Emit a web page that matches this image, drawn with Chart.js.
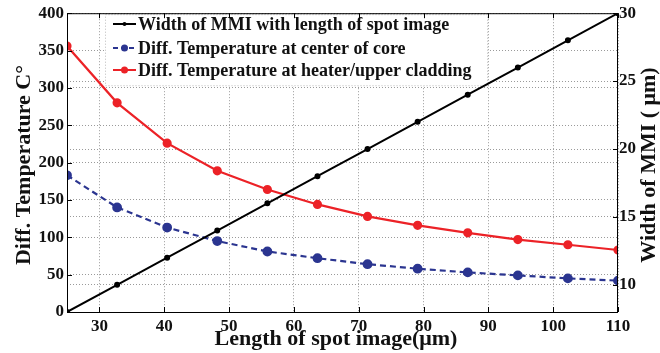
<!DOCTYPE html>
<html>
<head>
<meta charset="utf-8">
<script src="https://cdn.jsdelivr.net/npm/chart.js@4.4.1/dist/chart.umd.min.js"></script>
<style>
  html, body { margin: 0; padding: 0; background: #fff; }
  #wrap { width: 660px; height: 353px; }
</style>
</head>
<body>
<div id="wrap"><canvas id="chart"></canvas></div>
<script>
// values
const spotLength = [25, 32.73, 40.45, 48.18, 55.91, 63.64, 71.36, 79.09, 86.82, 94.55, 102.27, 110];
const mmiWidth = [8, 10, 12, 14, 16, 18, 20, 22, 24, 26, 28, 30];
const tempCore = [183, 140, 113, 95, 81, 72, 64, 58, 53, 49, 45, 42];
const tempHeater = [356, 280, 226, 189, 164, 144, 128, 116, 106, 97, 90, 83];

const xTicks = [30, 40, 50, 60, 70, 80, 90, 100, 110];
const tempTicks = [0, 50, 100, 150, 200, 250, 300, 350, 400];
const widthTicks = [10, 15, 20, 25, 30];

const seriesNames = [
  'Width of MMI with length of spot image',
  'Diff. Temperature at center of core',
  'Diff. Temperature at heater/upper cladding'
];

const FONT = "'Liberation Serif', 'Times New Roman', serif";
const RED = '#ec2227';
const BLUE = '#2b3590';
const GRID = '#9a9a9a';

const toPoints = ys => spotLength.map((x, i) => ({ x: x, y: ys[i] }));

function fixTicks(values) {
  return scale => { scale.ticks = values.map(v => ({ value: v })); };
}

const framePlugin = {
  id: 'frame',
  beforeDatasetsDraw(chart) {
    // legend box sits on the grid, below the lines
    const ctx = chart.ctx;
    const a = chart.chartArea;
    ctx.save();
    ctx.fillStyle = '#fff';
    ctx.fillRect(105, a.top + 1, 383, 72);
    ctx.strokeStyle = '#bbb';
    ctx.lineWidth = 1;
    ctx.setLineDash([1, 2]);
    ctx.strokeRect(105.5, a.top + 1.5, 382, 71);
    const rows = [24, 48, 70];
    const colors = ['#000', BLUE, RED];
    const dashes = [[], [5, 3], []];
    const radii = [2, 3.5, 3.5];
    rows.forEach((y, i) => {
      ctx.strokeStyle = colors[i];
      ctx.fillStyle = colors[i];
      ctx.lineWidth = 2;
      ctx.setLineDash(dashes[i]);
      ctx.beginPath();
      ctx.moveTo(113, y);
      ctx.lineTo(136, y);
      ctx.stroke();
      ctx.setLineDash([]);
      ctx.beginPath();
      ctx.arc(124.5, y, radii[i], 0, Math.PI * 2);
      ctx.fill();
      ctx.fillStyle = '#111';
      ctx.font = 'bold 18px ' + FONT;
      ctx.textAlign = 'left';
      ctx.textBaseline = 'middle';
      ctx.fillText(seriesNames[i], 138, y + 1);
    });
    ctx.restore();
  },
  afterDraw(chart) {
    const ctx = chart.ctx;
    const a = chart.chartArea;
    const xs = chart.scales.x, yl = chart.scales.y, yr = chart.scales.y2;
    ctx.save();
    ctx.strokeStyle = '#000';
    ctx.lineWidth = 1;
    ctx.strokeRect(a.left + 0.5, a.top + 0.5, a.right - a.left - 1, a.bottom - a.top);
    // inward ticks
    ctx.beginPath();
    xTicks.forEach(v => {
      const px = Math.round(xs.getPixelForValue(v)) + 0.5;
      ctx.moveTo(px, a.bottom); ctx.lineTo(px, a.bottom - 5);
      ctx.moveTo(px, a.top); ctx.lineTo(px, a.top + 5);
    });
    tempTicks.forEach(v => {
      const py = Math.round(yl.getPixelForValue(v)) + 0.5;
      ctx.moveTo(a.left, py); ctx.lineTo(a.left + 5, py);
    });
    widthTicks.forEach(v => {
      const py = Math.round(yr.getPixelForValue(v)) + 0.5;
      ctx.moveTo(a.right, py); ctx.lineTo(a.right - 5, py);
    });
    ctx.stroke();

    // axis titles
    ctx.fillStyle = '#111';
    ctx.font = 'bold 22px ' + FONT;
    ctx.textAlign = 'center';
    ctx.textBaseline = 'alphabetic';
    ctx.fillText('Length of spot image(\u03bcm)', 336, 345);

    ctx.textBaseline = 'middle';
    ctx.save();
    ctx.translate(24, 165);
    ctx.rotate(-Math.PI / 2);
    ctx.fillText('Diff. Temperature C\u00b0', 0, 0);
    ctx.restore();

    ctx.save();
    ctx.translate(649, 165);
    ctx.rotate(-Math.PI / 2);
    ctx.fillText('Width of MMI ( \u03bcm)', 0, 0);
    ctx.restore();
    ctx.restore();
  }
};

const tickFont = { family: FONT, size: 17, weight: 'bold' };

new Chart(document.getElementById('chart'), {
  type: 'line',
  data: {
    datasets: [
      {
        label: seriesNames[0],
        data: toPoints(mmiWidth),
        yAxisID: 'y2',
        borderColor: '#000',
        backgroundColor: '#000',
        borderWidth: 2,
        pointRadius: 2,
        pointHoverRadius: 2,
        tension: 0
      },
      {
        label: seriesNames[1],
        data: toPoints(tempCore),
        yAxisID: 'y',
        borderColor: BLUE,
        backgroundColor: BLUE,
        borderWidth: 2.2,
        borderDash: [6, 4],
        pointRadius: 3.8,
        pointHoverRadius: 3.8,
        tension: 0
      },
      {
        label: seriesNames[2],
        data: toPoints(tempHeater),
        yAxisID: 'y',
        borderColor: RED,
        backgroundColor: RED,
        borderWidth: 2.2,
        pointRadius: 3.5,
        pointHoverRadius: 3.5,
        tension: 0
      }
    ]
  },
  options: {
    responsive: true,
    maintainAspectRatio: false,
    animation: false,
    layout: { padding: { top: 12, left: 0, right: 0, bottom: 0 } },
    plugins: {
      legend: { display: false },
      tooltip: { enabled: false }
    },
    scales: {
      x: {
        type: 'linear',
        min: 25,
        max: 110,
        afterBuildTicks: fixTicks(xTicks),
        afterFit: s => { s.height = 41; },
        grid: { color: GRID, lineWidth: 1, drawTicks: false },
        border: { display: false, dash: [1, 2] },
        ticks: { font: tickFont, color: '#111', padding: 4, maxRotation: 0 }
      },
      y: {
        position: 'left',
        min: 0,
        max: 400,
        afterBuildTicks: fixTicks(tempTicks),
        afterFit: s => { s.width = 67; },
        grid: { color: GRID, lineWidth: 1, drawTicks: false },
        border: { display: false, dash: [1, 2] },
        ticks: { font: tickFont, color: '#111', padding: 3 }
      },
      y2: {
        position: 'right',
        min: 8,
        max: 30,
        afterBuildTicks: fixTicks(widthTicks),
        afterFit: s => { s.width = 42; },
        grid: { color: GRID, lineWidth: 1, drawTicks: false, drawOnChartArea: true },
        border: { display: false, dash: [1, 2] },
        ticks: { font: tickFont, color: '#111', padding: 1 }
      }
    }
  },
  plugins: [framePlugin]
});
</script>
</body>
</html>
